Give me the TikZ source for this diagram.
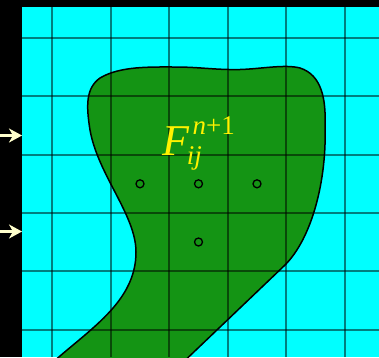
\documentclass[tikz,border=0pt]{standalone}
\usepackage{fontspec}
\setmainfont{Liberation Serif}
\usetikzlibrary{arrows.meta}
\definecolor{bgcyan}{RGB}{0,255,255}
\definecolor{fillgreen}{RGB}{20,148,20}
\definecolor{cream}{RGB}{255,255,204}
\tikzset{
  gridline/.style={draw=black, draw opacity=0.5, line width=2pt},
  outline/.style={fill=fillgreen, draw=black, line width=1.5pt},
  celldot/.style={circle, draw=black, line width=1.3pt, inner sep=0pt, minimum size=8pt},
  inarrow/.style={draw=cream, line width=3pt, -{Stealth[length=13pt,width=14pt,inset=4pt]}},
  formula/.style={anchor=base west, inner sep=0pt, text=yellow, font=\fontsize{44}{44}\selectfont}
}
\begin{document}
\begin{tikzpicture}[x=1pt,y=-1pt]
\fill[black] (0,0) rectangle (379,357);
\useasboundingbox (0,0) rectangle (379,357);
\fill[bgcyan] (22,7) rectangle (379,357);
\begin{scope}
\clip (22,7) rectangle (379,357);
\filldraw[outline] (56,359.5) .. controls (93,327) and (136,300) .. (136,252)
  .. controls (136,215) and (98,175) .. (90,130)
  .. controls (86,105) and (86,88) .. (100,78)
  .. controls (120,66) and (150,67) .. (175,67)
  .. controls (200,67) and (215,70) .. (240,69.5)
  .. controls (260,69) and (285,64) .. (300,68)
  .. controls (322,75) and (326,100) .. (325,125)
  .. controls (327,180) and (312,238) .. (285,265)
  -- (186,359.5) -- cycle;
\foreach \gx in {52.3,110.8,169.3,227.8,286.3,344.8}
  \draw[gridline] (\gx,7) -- (\gx,357);
\foreach \gy in {38,96.3,154.6,212.9,271.2,329.5}
  \draw[gridline] (22,\gy) -- (379,\gy);
\end{scope}
\node[celldot] (c1) at (140,183.8) {};
\node[celldot] (c2) at (198.5,183.8) {};
\node[celldot] (c3) at (257,183.8) {};
\node[celldot] (c4) at (198.5,242) {};
\node[formula] (F) at (162,155) {\itshape F\rlap{\kern3.6pt\raisebox{21pt}{\fontsize{27}{27}\selectfont\textit{n}\upshape +1}}\kern-2.2pt\raisebox{-9pt}{\fontsize{27}{27}\selectfont ij}};
\coordinate (a1s) at (0,135.5);
\coordinate (a1e) at (22,135.5);
\coordinate (a2s) at (0,231.5);
\coordinate (a2e) at (22,231.5);
\draw[inarrow] (a1s) -- (a1e);
\draw[inarrow] (a2s) -- (a2e);
\end{tikzpicture}
\end{document}
